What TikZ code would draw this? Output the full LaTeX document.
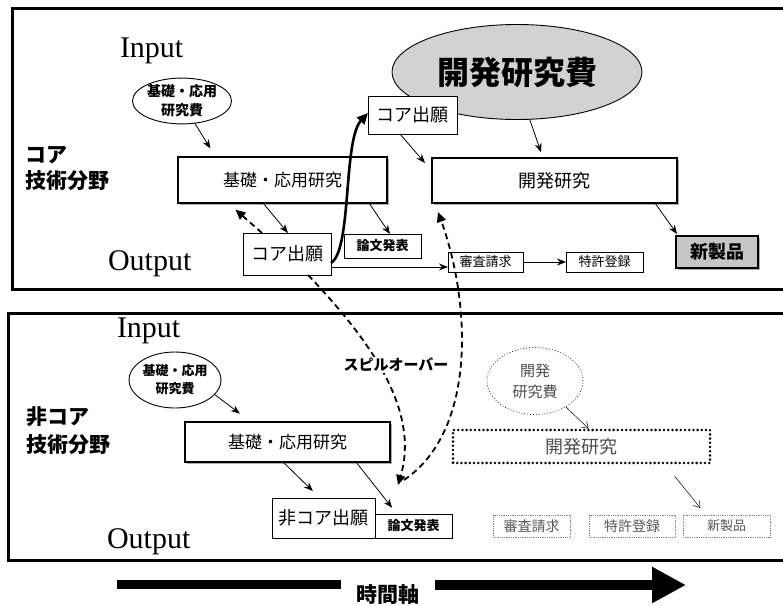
\documentclass[tikz,border=0pt]{standalone}
\usepackage{fontspec}
\setmainfont{Liberation Serif}
\newfontfamily\cjk{Noto Sans CJK JP}
\usetikzlibrary{shapes.geometric,arrows.meta,shadows,calc}
\begin{document}
\begin{tikzpicture}[x=1pt,y=-1pt,
  every node/.style={inner sep=0pt,outer sep=0pt},
  f/.style={font=\cjk\fontsize{#1}{#1}\selectfont},
  fb/.style={font=\cjk\bfseries\fontsize{#1}{#1}\selectfont},
  en/.style={font=\fontsize{30}{30}\selectfont, anchor=base west},
  sz/.style 2 args={minimum width=#1, minimum height=#2},
  thickbox/.style={draw, line width=2.4pt, fill=white, drop shadow={shadow xshift=1.8pt, shadow yshift=-1.8pt, fill=gray!65, opacity=1}},
  plainbox/.style={draw, line width=0.9pt, fill=white},
  dotbox/.style={draw=black, line width=2.8pt, dash pattern=on 0pt off 4.2pt, line cap=round},
  faintbox/.style={draw=gray, line width=0.8pt, densely dotted, text=gray!70!black},
  ell/.style={ellipse, draw, line width=0.9pt, align=center},
  arr/.style={-{Stealth[length=9pt,width=7pt]}, line width=0.8pt},
  thinarr/.style={-{Straight Barb[length=6pt,width=8pt]}, line width=0.5pt},
  dasharr/.style={dash pattern=on 6pt off 4pt, line width=1.8pt, -{Triangle[length=10pt,width=9pt]}},
  thickarr/.style={line width=2.6pt, -{Triangle[length=11pt,width=10pt]}},
  panel/.style={line width=3pt}
]
\useasboundingbox (0,0) rectangle (783,605);

% panels
\draw[panel] (12,8) rectangle (800,289);
\draw[panel] (8,313) rectangle (800,560);

% ---------- top panel ----------
\node[en] (in1) at (120,57) {Input};
\node[en] (out1) at (108,270) {Output};
\node[fb=21, anchor=west, align=left] (core) at (25,169) {コア\\[5pt]技術分野};

\node[ell, sz={88}{45}, fb=14] (ellA1) at (182,101) {基礎・応用\\[5pt]研究費};
\node[ell, sz={250}{95}, fill=gray!35, fb=32] (ellK) at (517,72) {開発研究費};
\node[plainbox, sz={89}{38}, f=18] (ca2) at (412.5,115) {コア出願};
\node[thickbox, sz={209}{46}, f=17] (ka1) at (282.5,180) {基礎・応用研究};
\node[thickbox, sz={245}{45}, f=18] (kh1) at (554.5,180.5) {開発研究};
\node[plainbox, sz={88}{42}, f=18] (ca1) at (287,254) {コア出願};
\node[plainbox, sz={77}{24}, fb=13] (rb1) at (382.5,246) {論文発表};
\node[plainbox, sz={75}{20}, f=13] (ss1) at (485.5,262) {審査請求};
\node[plainbox, sz={77}{20}, f=13] (tk1) at (604.5,262) {特許登録};
\node[thickbox, fill=gray!45, sz={82}{32}, fb=18] (np1) at (717,252) {新製品};

\draw[arr, shorten >=10pt] (ellA1.-60) -- ([xshift=37.6pt]ka1.north west);
\draw[arr] ([xshift=85pt]ka1.south west) -- ([xshift=45pt]ca1.north west);
\draw[arr] ([xshift=191pt]ka1.south west) -- ([xshift=46pt]rb1.north west);
\draw[dasharr, shorten >=10pt] ([xshift=19pt]ca1.north west) -- ([xshift=50pt]ka1.south west);
\draw[thickarr] ([yshift=-9pt]ca1.east) .. controls (352,250) and (343,140) .. ([yshift=2pt]ca2.west);
\draw[arr] ([xshift=32pt]ca2.south west) -- ([xshift=-7pt,yshift=-5pt]kh1.north west);
\draw[arr, shorten >=6pt] (ellK.-75) -- ([xshift=111pt]kh1.north west);
\draw[arr] ([xshift=-22pt]kh1.south east) -- ([xshift=1pt,yshift=2pt]np1.north west);
\draw[arr] ([yshift=8pt]ca1.south east) -- ([yshift=8pt]ca1.south east -| ss1.west);
\draw[arr] (ss1.east) -- (tk1.west);

% ---------- bottom panel ----------
\node[en] (in2) at (117,337) {Input};
\node[en] (out2) at (107,548) {Output};
\node[fb=21, anchor=west, align=left] (ncore) at (26,431) {非コア\\[7pt]技術分野};

\node[ell, sz={88}{56}, fb=13] (ellA2) at (175,380) {基礎・応用\\[5pt]研究費};
\node[thickbox, sz={205}{40}, f=17] (ka2) at (287.5,442) {基礎・応用研究};
\node[plainbox, sz={103}{40}, f=18] (nc) at (323.5,518) {非コア出願};
\node[plainbox, sz={77}{24}, fb=13] (rb2) at (413.5,526) {論文発表};
\node[ell, dotted, line width=0.6pt, sz={96}{67}, f=15, text=gray!60!black] (ellK2) at (535,381) {開発\\[6pt]研究費};
\node[dotbox, sz={257}{33}, f=18, text=gray!60!black] (kh2) at (581.5,446.5) {開発研究};
\node[faintbox, sz={77}{22}, f=14] (ss2) at (531.5,526) {審査請求};
\node[faintbox, sz={86}{22}, f=14] (tk2) at (632,526) {特許登録};
\node[faintbox, sz={87}{22}, f=13] (np2) at (726.5,526) {新製品};

\draw[arr, shorten >=14pt] (ellA2.-20) -- ([xshift=66pt]ka2.north west);
\draw[arr, shorten >=10pt] ([xshift=98pt]ka2.south west) -- ([xshift=48pt]nc.north west);
\draw[arr, shorten >=8pt] ([xshift=171pt]ka2.south west) -- ([xshift=22pt]rb2.north west);
\draw[thinarr, shorten >=2pt] (ellK2.-40) -- ([xshift=137pt]kh2.north west);
\draw[thinarr, shorten <=17pt, shorten >=9pt] ([xshift=-46pt]kh2.south east) -- ([xshift=23pt]np2.north west);

% ---------- spillover ----------
\coordinate (sp1) at (398,485);
\coordinate (sp2) at (404,480);
\draw[dasharr] ([xshift=65pt]ca1.south west) .. controls (370,340) and (420,410) .. (sp1);
\draw[dasharr] (sp2) .. controls (478,430) and (470,300) .. ([xshift=6pt,yshift=-9pt]kh1.south west);
\node[fb=15, fill=white, inner sep=1pt] (spill) at (396,365) {スピルオーバー};

% ---------- time axis ----------
\coordinate (t0) at (117,584.5);
\coordinate (t1) at (686,585);
\node[fb=21] (tax) at (388,594) {時間軸};
\draw[line width=9pt] (t0) -- ([xshift=-16pt]tax.west |- t0);
\draw[line width=10pt, -{Triangle[length=34pt,width=34pt]}] ([xshift=15pt]tax.east |- t1) -- (t1);
\end{tikzpicture}
\end{document}
